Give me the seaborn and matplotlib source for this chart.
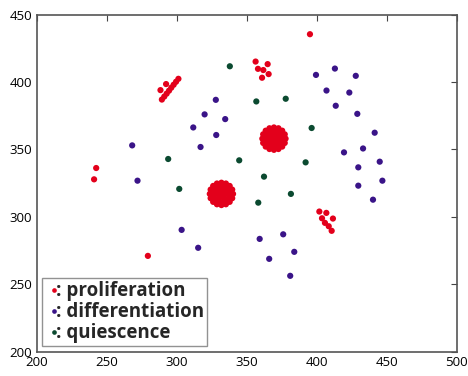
import matplotlib
matplotlib.use("Agg")
import matplotlib.pyplot as plt
import seaborn as sns
import pandas as pd

sns.set_style("white")
plt.rcParams['font.family'] = ['Open Sans', 'DejaVu Sans']

# proliferation: two dense clumps, a short streak and some loose cells
prolif_x = [
    369.5, 372.5, 371, 368, 366.5, 368, 371,
    375.1, 373.6, 371, 368, 365.4, 363.9, 363.9, 365.4, 368, 371, 373.6, 375.1,
    377.8, 377.2, 375.4, 372.7, 369.5, 366.3, 363.6, 361.8, 361.2, 361.8, 363.6, 366.3, 369.5, 372.7, 375.4, 377.2,
    332, 335, 333.5, 330.5, 329, 330.5, 333.5,
    337.6, 336.1, 333.5, 330.5, 327.9, 326.4, 326.4, 327.9, 330.5, 333.5, 336.1, 337.6,
    340.3, 339.7, 337.9, 335.2, 332, 328.8, 326.1, 324.3, 323.7, 324.3, 326.1, 328.8, 332, 335.2, 337.9, 339.7,
    289.5, 291.2, 292.9, 294.6, 296.2, 297.9, 299.6, 301.3, 288.5, 292.5,
    356.4, 365, 358.1, 361.9, 365.7, 361,
    401.9, 406.9, 403.8, 411.6, 405.9, 408.6, 410.7,
    395.2, 242.6, 241.1, 279.5,
]
prolif_y = [
    358, 358, 360.6, 360.6, 358, 355.4, 355.4,
    359.5, 362.1, 363.6, 363.6, 362.1, 359.5, 356.5, 353.9, 352.4, 352.4, 353.9, 356.5,
    358, 361.2, 363.9, 365.7, 366.3, 365.7, 363.9, 361.2, 358, 354.8, 352.1, 350.3, 349.7, 350.3, 352.1, 354.8,
    317, 317, 319.6, 319.6, 317, 314.4, 314.4,
    318.5, 321.1, 322.6, 322.6, 321.1, 318.5, 315.5, 312.9, 311.4, 311.4, 312.9, 315.5,
    317, 320.2, 322.9, 324.7, 325.3, 324.7, 322.9, 320.2, 317, 313.8, 311.1, 309.3, 308.7, 309.3, 311.1, 313.8,
    387, 389.2, 391.4, 393.6, 395.8, 398, 400.2, 402.4, 394, 398.5,
    415.2, 413.3, 409.8, 408.9, 405.9, 403.2,
    303.9, 302.9, 298.9, 298.7, 295.5, 293, 289.6,
    435.5, 336.2, 327.8, 271,
]

diff_x = [399.5, 413, 427.9, 407, 423.3, 413.6, 429, 328, 320, 334.7, 311.9,
          328.3, 268.3, 317.1, 272.1, 441.4, 419.5, 433.1, 429.7, 445, 429.7,
          446.9, 440.2, 303.6, 359.3, 376.1, 315.4, 366.1, 384, 381.1]
diff_y = [405.3, 410, 404.6, 393.7, 392.2, 382.4, 376.4, 386.8, 376, 372.5, 366.3,
          360.7, 353, 351.8, 326.8, 362.4, 347.8, 350.7, 336.7, 340.9, 323.1,
          326.8, 312.7, 290.3, 283.6, 287, 277, 268.8, 274, 256.2]

quies_x = [338, 356.9, 377.9, 396.4, 294, 344.7, 392.1, 362.4, 301.9, 381.6, 358.3]
quies_y = [411.7, 385.6, 387.6, 365.9, 342.9, 341.9, 340.4, 329.8, 320.7, 317, 310.5]

labels = [": proliferation", ": differentiation", ": quiescence"]
colors = ["#e3001b", "#3a1488", "#0b4a30"]

df = pd.DataFrame({
    "x": prolif_x + diff_x + quies_x,
    "y": prolif_y + diff_y + quies_y,
    "state": [labels[0]] * len(prolif_x) + [labels[1]] * len(diff_x) + [labels[2]] * len(quies_x),
})

fig = plt.figure(figsize=(4.68, 3.76), dpi=100)
ax = fig.add_axes([0.078, 0.065, 0.898, 0.896])
sns.scatterplot(data=df, x="x", y="y", hue="state", hue_order=labels,
                palette=colors, s=20, linewidth=0, ax=ax)

ax.set_xlim(200, 500)
ax.set_ylim(200, 450)
ax.set_xticks(range(200, 501, 50))
ax.set_yticks(range(200, 451, 50))
ax.set_xlabel("")
ax.set_ylabel("")
ax.tick_params(direction="in", top=True, right=True, length=4, width=0.8,
               labelsize=9.5, colors="#444444", labelcolor="black", pad=3)
for sp in ax.spines.values():
    sp.set_color("#555555")
    sp.set_linewidth(1.2)

leg = ax.legend(loc="lower left", frameon=True, fancybox=False,
                prop={"weight": "bold", "size": 13.5}, markerscale=0.75,
                handletextpad=-0.4, handlelength=1.0, borderpad=0.15,
                labelspacing=0.05, borderaxespad=0.3)
leg.get_frame().set_edgecolor("#777777")
leg.get_frame().set_linewidth(1.0)
leg.legend_handles[2].set_color("#15735f")

fig.savefig("out.png", dpi=100)
